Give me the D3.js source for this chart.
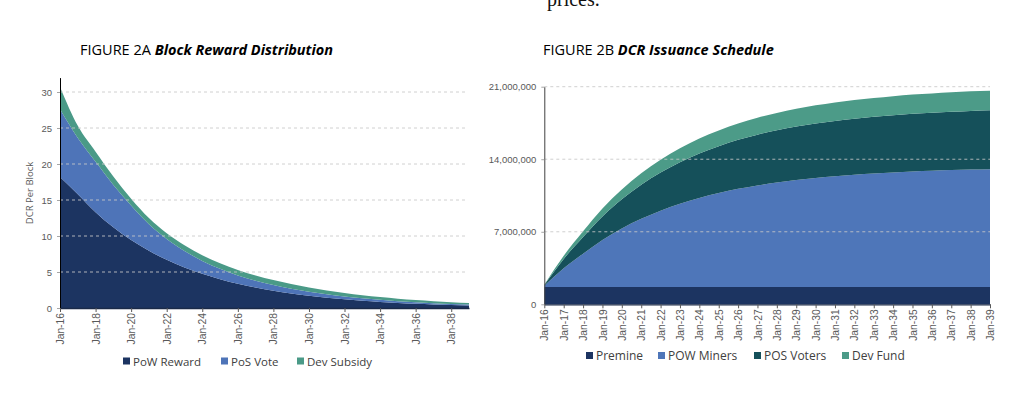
<!DOCTYPE html>
<html>
<head>
<meta charset="utf-8">
<script src="https://cdn.jsdelivr.net/npm/d3@7"></script>
<style>
  body { margin: 0; background: #fff; }
  svg { display: block; font-family: "Open Sans", sans-serif; }
</style>
</head>
<body>
<svg id="chart" width="1024" height="408"></svg>
<script>
// categories: one point per January
const years = ["Jan-16", "Jan-17", "Jan-18", "Jan-19", "Jan-20", "Jan-21", "Jan-22", "Jan-23",
  "Jan-24", "Jan-25", "Jan-26", "Jan-27", "Jan-28", "Jan-29", "Jan-30", "Jan-31",
  "Jan-32", "Jan-33", "Jan-34", "Jan-35", "Jan-36", "Jan-37", "Jan-38", "Jan-39"];

// figure 2A, DCR per block
const powReward = [18.2, 15.8, 13.3, 11.2, 9.43, 7.94, 6.69, 5.63, 4.74, 4.0, 3.36, 2.83,
  2.38, 2.0, 1.69, 1.42, 1.2, 1.0, 0.85, 0.71, 0.6, 0.5, 0.42, 0.36];
const posVote = [9.4, 7.8, 7.0, 5.9, 4.8, 3.7, 2.9, 2.3, 1.8, 1.45, 1.17, 0.97,
  0.82, 0.69, 0.57, 0.48, 0.4, 0.34, 0.28, 0.24, 0.2, 0.17, 0.14, 0.11];
const devSubsidy = [3.1, 1.7, 1.4, 1.15, 0.95, 0.85, 0.8, 0.78, 0.78, 0.78, 0.76, 0.72,
  0.68, 0.63, 0.58, 0.53, 0.48, 0.43, 0.39, 0.35, 0.31, 0.28, 0.25, 0.22];

// figure 2B, millions of DCR issued
const premine = [1.68, 1.68, 1.68, 1.68, 1.68, 1.68, 1.68, 1.68, 1.68, 1.68, 1.68, 1.68,
  1.68, 1.68, 1.68, 1.68, 1.68, 1.68, 1.68, 1.68, 1.68, 1.68, 1.68, 1.68];
const powMiners = [0.12, 1.80, 3.21, 4.53, 5.64, 6.57, 7.36, 8.02, 8.59, 9.05, 9.46, 9.79,
  10.07, 10.31, 10.51, 10.68, 10.82, 10.94, 11.05, 11.13, 11.20, 11.27, 11.32, 11.36];
const posVoters = [0.06, 0.90, 1.61, 2.27, 2.82, 3.29, 3.68, 4.01, 4.29, 4.53, 4.73, 4.90,
  5.04, 5.16, 5.26, 5.34, 5.41, 5.47, 5.52, 5.57, 5.60, 5.63, 5.66, 5.68];
const devFund = [0.02, 0.30, 0.54, 0.76, 0.94, 1.10, 1.23, 1.34, 1.43, 1.51, 1.58, 1.63,
  1.68, 1.72, 1.75, 1.78, 1.80, 1.82, 1.84, 1.86, 1.87, 1.88, 1.89, 1.89];

const rewardTicks = [0, 5, 10, 15, 20, 25, 30];
const supplyTicks = [0, 7000000, 14000000, 21000000];

const parseYear = d3.timeParse("%b-%y");
const dates = years.map(parseYear);
const svg = d3.select("#chart");

// last line of the page text above the figures (cut by the top edge, as in the source)
svg.append("text")
  .attr("x", 547).attr("y", 6)
  .style("font-family", "'Liberation Serif', serif")
  .style("font-size", "20px")
  .attr("fill", "#111")
  .text("prices.");

function drawPanel(opts) {
  const g = svg.append("g");

  const x = d3.scaleTime()
    .domain([dates[0], dates[dates.length - 1]])
    .range([opts.left, opts.right]);
  const y = d3.scaleLinear()
    .domain([0, opts.yMax])
    .range([opts.bottom, opts.top]);

  const rows = dates.map((d, i) => {
    const r = { date: d };
    opts.series.forEach(s => { r[s.name] = s.values[i] * opts.unit; });
    return r;
  });
  const stacked = d3.stack().keys(opts.series.map(s => s.name))(rows);

  const area = d3.area()
    .x(d => x(d.data.date))
    .y0(d => y(d[0]))
    .y1(d => y(d[1]))
    .curve(d3.curveMonotoneX);

  g.selectAll("path.band")
    .data(stacked)
    .join("path")
    .attr("class", "band")
    .attr("fill", (d, i) => opts.series[i].color)
    .attr("d", area);

  // dashed gridlines sit on top of the fills
  g.selectAll("line.grid")
    .data(opts.yTicks.filter(v => v > 0))
    .join("line")
    .attr("class", "grid")
    .attr("x1", opts.left).attr("x2", opts.gridRight)
    .attr("y1", d => y(d)).attr("y2", d => y(d))
    .attr("stroke", "#c8c8c8")
    .attr("stroke-opacity", 0.85)
    .attr("stroke-width", 1)
    .attr("stroke-dasharray", "3,3");

  // y axis
  const yAxis = g.append("g")
    .attr("transform", `translate(${opts.left},0)`)
    .call(d3.axisLeft(y).tickValues(opts.yTicks).tickSize(5).tickSizeOuter(0).tickFormat(opts.fmt));
  yAxis.select(".domain").attr("stroke", opts.axisColor);
  yAxis.selectAll(".tick line").attr("stroke", "#a6a6a6").attr("stroke-dasharray", "3,2");
  yAxis.selectAll(".tick text")
    .attr("x", -8)
    .attr("fill", "#595959")
    .style("font-size", "9.5px");

  // x axis
  const tickDates = dates.filter((d, i) => i % opts.every === 0 && i <= opts.lastTick);
  const xAxis = g.append("g")
    .attr("transform", `translate(0,${opts.bottom})`)
    .call(d3.axisBottom(x).tickValues(tickDates).tickSize(4).tickSizeOuter(0)
      .tickFormat(d3.timeFormat("%b-%y")));
  xAxis.select(".domain").attr("stroke", "#1a2a48").attr("stroke-width", 1.3);
  xAxis.selectAll(".tick line").attr("stroke", "#595959");
  xAxis.selectAll(".tick text")
    .attr("transform", "rotate(-90)")
    .attr("x", -5)
    .attr("y", 0)
    .attr("dy", "0.35em")
    .attr("text-anchor", "end")
    .attr("fill", "#595959")
    .style("font-size", "10.3px");

  // title
  const title = svg.append("text")
    .attr("x", opts.titleX).attr("y", 55)
    .attr("fill", "#000")
    .style("font-size", "14.5px");
  title.append("tspan").text(opts.figure + " ");
  title.append("tspan")
    .style("font-weight", "bold").style("font-style", "italic")
    .text(opts.title);

  // legend
  const leg = svg.append("g");
  opts.series.forEach((s, i) => {
    const lx = opts.legendX[i];
    leg.append("rect")
      .attr("x", lx).attr("y", opts.legendY - 4)
      .attr("width", 7).attr("height", 7)
      .attr("fill", s.color);
    leg.append("text")
      .attr("x", lx + 10).attr("y", opts.legendY)
      .attr("dy", "0.35em")
      .attr("fill", "#404040")
      .style("font-size", opts.legendSize)
      .text(s.name);
  });

  return { x, y };
}

drawPanel({
  figure: "FIGURE 2A", title: "Block Reward Distribution", titleX: 80,
  left: 60, right: 469, gridRight: 467, top: 77.6, bottom: 308, yMax: 32,
  unit: 1, yTicks: rewardTicks, fmt: d3.format("d"), axisColor: "#000",
  every: 2, lastTick: 22,
  legendX: [123, 221, 297], legendY: 361.5, legendSize: "11.5px",
  series: [
    { name: "PoW Reward", values: powReward, color: "#1c3461" },
    { name: "PoS Vote", values: posVote, color: "#4e74b8" },
    { name: "Dev Subsidy", values: devSubsidy, color: "#4a9a87" }
  ]
});

drawPanel({
  figure: "FIGURE 2B", title: "DCR Issuance Schedule", titleX: 543,
  left: 544.3, right: 990, gridRight: 990, top: 86.7, bottom: 304.3, yMax: 21000000,
  unit: 1000000, yTicks: supplyTicks, fmt: d3.format(","), axisColor: "#404040",
  every: 1, lastTick: 23,
  legendX: [586, 658, 754, 842], legendY: 356, legendSize: "12px",
  series: [
    { name: "Premine", values: premine, color: "#1c3461" },
    { name: "POW Miners", values: powMiners, color: "#4e76b9" },
    { name: "POS Voters", values: posVoters, color: "#15505a" },
    { name: "Dev Fund", values: devFund, color: "#4c9b88" }
  ]
});

// "DCR Per Block" axis title on the left panel
svg.append("text")
  .attr("transform", "translate(33,193) rotate(-90)")
  .attr("text-anchor", "middle")
  .attr("fill", "#595959")
  .style("font-size", "9.5px")
  .text("DCR Per Block");
</script>
</body>
</html>
